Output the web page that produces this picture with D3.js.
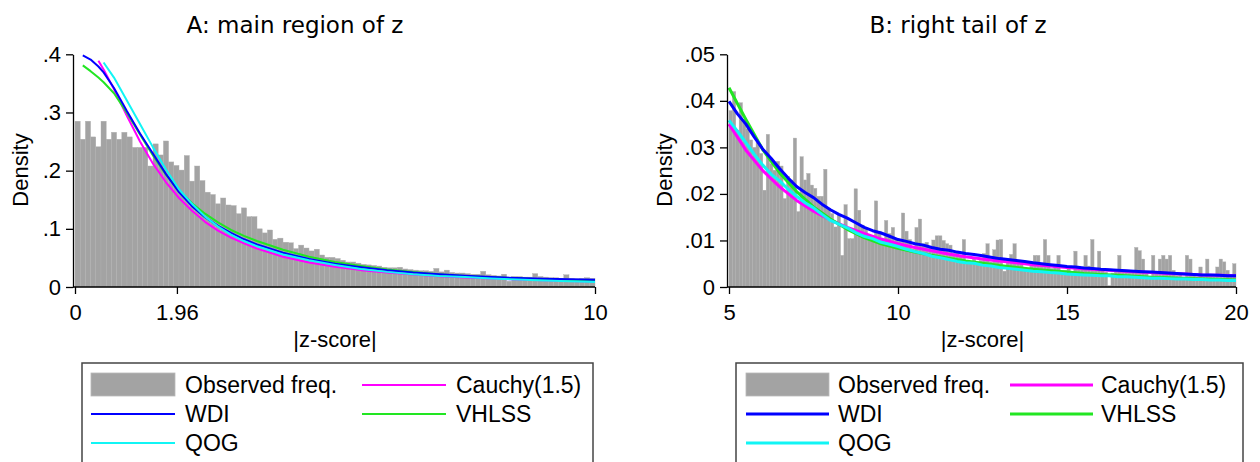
<!DOCTYPE html>
<html>
<head>
<meta charset="utf-8">
<script src="https://cdn.jsdelivr.net/npm/d3@7"></script>
<style>
  body { margin: 0; background: #fff; }
  text { font-family: "Liberation Sans", Arial, sans-serif; fill: #000; }
  .title { font-family: "DejaVu Sans", Tahoma, sans-serif; }
</style>
</head>
<body>
<div id="chart"></div>
<script>
// Two histograms of |z| with fitted densities (A: main region, B: right tail)

const width = 1260;
const height = 462;

// ---- data ----
const titles = ["A: main region of z", "B: right tail of z"];
const legendLabels = ["Observed freq.", "Cauchy(1.5)", "WDI", "VHLSS", "QOG"];

// panel A: bins of 0.1 from 0 to 10
const histA = [
  0.285, 0.254, 0.285, 0.258, 0.241, 0.285, 0.254, 0.266, 0.254, 0.266,
  0.258, 0.240, 0.240, 0.240, 0.208, 0.246, 0.227, 0.251, 0.215, 0.209,
  0.201, 0.226, 0.182, 0.208, 0.183, 0.163, 0.159, 0.143, 0.153, 0.141,
  0.140, 0.126, 0.136, 0.121, 0.121, 0.100, 0.093, 0.098, 0.082, 0.084,
  0.077, 0.076, 0.066, 0.072, 0.067, 0.062, 0.065, 0.055, 0.051, 0.051,
  0.049, 0.046, 0.043, 0.043, 0.041, 0.039, 0.038, 0.037, 0.036, 0.034,
  0.033, 0.033, 0.034, 0.031, 0.030, 0.029, 0.028, 0.028, 0.027, 0.032,
  0.026, 0.029, 0.025, 0.024, 0.024, 0.023, 0.022, 0.022, 0.027, 0.021,
  0.020, 0.019, 0.022, 0.010, 0.018, 0.018, 0.017, 0.017, 0.023, 0.018,
  0.017, 0.016, 0.016, 0.015, 0.021, 0.015, 0.014, 0.015, 0.016, 0.015
];

// panel B: bins of 0.1 from 5 to 20
const histB = [
  0.0379, 0.0420, 0.0337, 0.0396, 0.0360, 0.0340, 0.0316, 0.0300, 0.0310, 0.0287,
  0.0208, 0.0328, 0.0265, 0.0251, 0.0270, 0.0260, 0.0190, 0.0237, 0.0230, 0.0320,
  0.0162, 0.0280, 0.0230, 0.0244, 0.0219, 0.0212, 0.0195, 0.0195, 0.0253, 0.0169,
  0.0158, 0.0129, 0.0155, 0.0068, 0.0177, 0.0104, 0.0104, 0.0211, 0.0165, 0.0133,
  0.0128, 0.0111, 0.0111, 0.0185, 0.0120, 0.0102, 0.0143, 0.0115, 0.0128, 0.0105,
  0.0098, 0.0159, 0.0120, 0.0102, 0.0082, 0.0128, 0.0146, 0.0093, 0.0096, 0.0086,
  0.0101, 0.0110, 0.0110, 0.0100, 0.0093, 0.0090, 0.0073, 0.0073, 0.0065, 0.0102,
  0.0057, 0.0054, 0.0060, 0.0054, 0.0057, 0.0072, 0.0093, 0.0054, 0.0080, 0.0101,
  0.0102, 0.0034, 0.0060, 0.0070, 0.0093, 0.0050, 0.0054, 0.0036, 0.0036, 0.0045,
  0.0068, 0.0068, 0.0048, 0.0102, 0.0068, 0.0040, 0.0043, 0.0068, 0.0036, 0.0036,
  0.0040, 0.0034, 0.0077, 0.0045, 0.0040, 0.0068, 0.0045, 0.0102, 0.0040, 0.0077,
  0.0036, 0.0032, 0.0003, 0.0030, 0.0032, 0.0068, 0.0032, 0.0032, 0.0030, 0.0032,
  0.0085, 0.0078, 0.0060, 0.0029, 0.0022, 0.0068, 0.0032, 0.0060, 0.0068, 0.0060,
  0.0068, 0.0036, 0.0025, 0.0029, 0.0022, 0.0068, 0.0060, 0.0029, 0.0022, 0.0043,
  0.0022, 0.0060, 0.0025, 0.0022, 0.0043, 0.0060, 0.0054, 0.0036, 0.0022, 0.0050
];

// panel A density curves (null = not drawn there)
const gridA = [0.15, 0.3, 0.45, 0.55, 0.75, 1, 1.25, 1.5, 1.75, 2, 2.25, 2.5, 2.75, 3, 3.25, 3.5,
  4, 4.5, 5, 5.5, 6, 6.5, 7, 7.5, 8, 8.5, 9, 9.5, 10];
const cauchyA = [null, null, 0.389, 0.374, 0.340, 0.294, 0.250, 0.212, 0.180, 0.153, 0.131, 0.112, 0.097, 0.085, 0.075, 0.066,
  0.052, 0.042, 0.035, 0.029, 0.025, 0.0215, 0.0186, 0.0163, 0.0144, 0.0128, 0.0115, 0.0103, 0.0093];
const wdiA = [0.398, 0.391, 0.379, 0.369, 0.342, 0.302, 0.264, 0.229, 0.194, 0.163, 0.139, 0.120, 0.105, 0.093, 0.082, 0.073,
  0.059, 0.048, 0.040, 0.034, 0.029, 0.025, 0.022, 0.0195, 0.0172, 0.0155, 0.0143, 0.0133, 0.0123];
const vhlssA = [0.381, 0.371, 0.360, 0.352, 0.333, 0.299, 0.262, 0.226, 0.193, 0.166, 0.144, 0.126, 0.111, 0.098, 0.088, 0.079,
  0.064, 0.052, 0.043, 0.036, 0.030, 0.026, 0.022, 0.019, 0.0168, 0.0150, 0.0135, 0.0122, 0.0110];
const qogA = [null, null, null, 0.386, 0.360, 0.320, 0.280, 0.240, 0.202, 0.168, 0.143, 0.121, 0.104, 0.090, 0.079, 0.070,
  0.056, 0.046, 0.038, 0.031, 0.026, 0.022, 0.019, 0.017, 0.0147, 0.0128, 0.0112, 0.0098, 0.0086];

// panel B smooth curves (step 0.5)
const gridB5 = [5, 5.5, 6, 6.5, 7, 7.5, 8, 8.5, 9, 9.5, 10, 10.5, 11, 11.5, 12, 12.5, 13, 13.5, 14, 14.5,
  15, 15.5, 16, 16.5, 17, 17.5, 18, 18.5, 19, 19.5, 20];
const cauchyB = [0.0350, 0.0294, 0.0250, 0.0215, 0.0186, 0.0163, 0.0144, 0.0128, 0.0115, 0.0103, 0.0093, 0.0085, 0.0078,
  0.0071, 0.0065, 0.0060, 0.0056, 0.0052, 0.0048, 0.0045, 0.0042, 0.0039, 0.0037, 0.0035, 0.0033, 0.0031, 0.0029,
  0.0028, 0.0026, 0.0025, 0.0024];
const vhlssB = [0.0428, 0.0360, 0.0295, 0.0245, 0.0205, 0.0172, 0.0146, 0.0124, 0.0106, 0.0093, 0.0083, 0.0075, 0.0068,
  0.0062, 0.0056, 0.0051, 0.0046, 0.0042, 0.0038, 0.0035, 0.0032, 0.0029, 0.0027, 0.0025, 0.0023, 0.0021, 0.0020,
  0.0018, 0.0017, 0.0016, 0.0015];

// panel B jagged curves (step 0.25)
const gridB25 = [5, 5.25, 5.5, 5.75, 6, 6.25, 6.5, 6.75, 7, 7.25, 7.5, 7.75, 8, 8.25, 8.5, 8.75, 9, 9.25, 9.5, 9.75,
  10, 10.25, 10.5, 10.75, 11, 11.25, 11.5, 11.75, 12, 12.25, 12.5, 12.75, 13, 13.25, 13.5, 13.75, 14, 14.25, 14.5, 14.75,
  15, 15.25, 15.5, 15.75, 16, 16.25, 16.5, 16.75, 17, 17.25, 17.5, 17.75, 18, 18.25, 18.5, 18.75, 19, 19.25, 19.5, 19.75, 20];
const wdiB = [0.0399, 0.0372, 0.0350, 0.0322, 0.0296, 0.0276, 0.0254, 0.0234, 0.0216, 0.0203, 0.0192, 0.0178, 0.0166,
  0.0156, 0.0148, 0.0138, 0.0128, 0.0121, 0.0116, 0.0109, 0.0102, 0.0098, 0.0093, 0.0090, 0.0085, 0.0081, 0.0079,
  0.0075, 0.0072, 0.0070, 0.0067, 0.0064, 0.0061, 0.0059, 0.0057, 0.0055, 0.0052, 0.0050, 0.0048, 0.0046, 0.0044,
  0.0043, 0.0041, 0.0040, 0.0038, 0.0037, 0.0036, 0.0035, 0.0034, 0.0033, 0.0032, 0.0031, 0.0030, 0.0029, 0.0028,
  0.0027, 0.0026, 0.0026, 0.0025, 0.0024, 0.0024];
const qogB = [0.0358, 0.0335, 0.0310, 0.0285, 0.0262, 0.0242, 0.0228, 0.0210, 0.0195, 0.0181, 0.0170, 0.0156, 0.0143,
  0.0135, 0.0127, 0.0117, 0.0109, 0.0104, 0.0096, 0.0092, 0.0087, 0.0081, 0.0076, 0.0072, 0.0066, 0.0063, 0.0059,
  0.0055, 0.0052, 0.0051, 0.0047, 0.0045, 0.0042, 0.0040, 0.0038, 0.0036, 0.0034, 0.0033, 0.0031, 0.0030, 0.0028,
  0.0027, 0.0026, 0.0025, 0.0024, 0.0024, 0.0022, 0.0022, 0.0021, 0.0020, 0.0019, 0.0019, 0.0018, 0.0017, 0.0017,
  0.0016, 0.0016, 0.0015, 0.0015, 0.0014, 0.0014];

const xTicksA = [0, 1.96, 10];
const yTicksA = [0, 0.1, 0.2, 0.3, 0.4];
const xTicksB = [5, 10, 15, 20];
const yTicksB = [0, 0.01, 0.02, 0.03, 0.04, 0.05];

// colours
const colHist = "#a3a3a3";
const colCauchy = "#ff00ff";
const colWdi = "#0000ff";
const colVhlss = "#22e622";
const colQog = "#11f5f5";

const svg = d3.select("#chart")
  .append("svg")
  .attr("width", width)
  .attr("height", height);

svg.append("rect").attr("width", width).attr("height", height).attr("fill", "#fff");

// draws one panel
function drawPanel(p) {
  const x = d3.scaleLinear().domain(p.xDomain).range([p.left, p.right]);
  const y = d3.scaleLinear().domain(p.yDomain).range([p.bottom, p.top]);
  const g = svg.append("g");

  // title
  g.append("text")
    .attr("class", "title")
    .attr("x", p.titleX)
    .attr("y", 33)
    .attr("text-anchor", "middle")
    .attr("font-size", "23px")
    .text(p.title);

  // histogram bars
  g.selectAll(".bar")
    .data(p.hist)
    .enter()
    .append("rect")
    .attr("class", "bar")
    .attr("x", (d, i) => x(p.xDomain[0] + i * p.binW))
    .attr("width", (d, i) => x(p.xDomain[0] + (i + 1) * p.binW) - x(p.xDomain[0] + i * p.binW))
    .attr("y", d => y(d))
    .attr("height", d => y(0) - y(d))
    .attr("fill", colHist)
    .attr("stroke", "#b0b0b0")
    .attr("stroke-width", 0.4);

  // density curves
  p.curves.forEach(c => {
    const pts = c.grid.map((z, i) => [z, c.vals[i]]);
    const line = d3.line()
      .defined(d => d[1] !== null)
      .x(d => x(d[0]))
      .y(d => y(d[1]));
    g.append("path")
      .datum(pts)
      .attr("d", line)
      .attr("fill", "none")
      .attr("stroke", c.color)
      .attr("stroke-width", p.lw)
      .attr("stroke-linejoin", "round");
  });

  // y axis
  const yAxis = g.append("g")
    .attr("transform", `translate(${p.left - 2},0)`)
    .call(d3.axisLeft(y).tickValues(p.yTicks).tickSize(7).tickSizeOuter(0).tickPadding(5)
      .tickFormat(d => d === 0 ? "0" : d3.format(p.yFmt)(d).replace(/^0/, "")));
  yAxis.select(".domain").attr("stroke-width", 1.3);
  yAxis.selectAll("line").attr("stroke-width", 1.3);
  yAxis.selectAll("text").attr("font-size", "22px").attr("font-family", "Liberation Sans, Arial, sans-serif");

  // x axis
  const xAxis = g.append("g")
    .attr("transform", `translate(0,${p.bottom})`)
    .call(d3.axisBottom(x).tickValues(p.xTicks).tickSize(7).tickSizeOuter(0).tickPadding(10)
      .tickFormat(d => String(d)));
  xAxis.select(".domain").attr("d", `M${p.left - 2},0H${p.right}`).attr("stroke-width", 1.3);
  xAxis.selectAll("line").attr("stroke-width", 1.3);
  xAxis.selectAll("text").attr("font-size", "22px").attr("font-family", "Liberation Sans, Arial, sans-serif");

  // axis titles
  g.append("text")
    .attr("x", (p.left + p.right) / 2)
    .attr("y", 347)
    .attr("text-anchor", "middle")
    .attr("font-size", "22px")
    .text("|z-score|");
  g.append("text")
    .attr("transform", `translate(${p.densX},170) rotate(-90)`)
    .attr("text-anchor", "middle")
    .attr("font-size", "22px")
    .text("Density");

  // legend
  const L = p.legend;
  g.append("rect")
    .attr("x", L.x0).attr("y", 363)
    .attr("width", L.x1 - L.x0).attr("height", 140)
    .attr("fill", "#fff")
    .attr("stroke", "#444")
    .attr("stroke-width", 1.5);

  const rows = [393, 422, 451];
  const items = [
    { label: legendLabels[0], col: 0, row: 0, hist: true },
    { label: legendLabels[1], col: 1, row: 0, color: colCauchy },
    { label: legendLabels[2], col: 0, row: 1, color: colWdi },
    { label: legendLabels[3], col: 1, row: 1, color: colVhlss },
    { label: legendLabels[4], col: 0, row: 2, color: colQog }
  ];
  items.forEach(it => {
    const k0 = L.keyX[it.col];
    const by = rows[it.row];
    if (it.hist) {
      g.append("rect")
        .attr("x", k0).attr("y", by - 20)
        .attr("width", L.keyW).attr("height", 23)
        .attr("fill", colHist)
        .attr("stroke", "#b8b8b8")
        .attr("stroke-width", 0.8);
    } else {
      g.append("line")
        .attr("x1", k0).attr("x2", k0 + L.keyW)
        .attr("y1", by - 8).attr("y2", by - 8)
        .attr("stroke", it.color)
        .attr("stroke-width", p.lw);
    }
    g.append("text")
      .attr("x", L.textX[it.col])
      .attr("y", by)
      .attr("font-size", "23px")
      .text(it.label);
  });
}

drawPanel({
  title: titles[0], titleX: 295,
  xDomain: [0, 10], yDomain: [0, 0.4],
  left: 75, right: 595, top: 54.3, bottom: 287,
  binW: 0.1, hist: histA,
  xTicks: xTicksA, yTicks: yTicksA, yFmt: ".1f",
  densX: 28, lw: 2,
  curves: [
    { grid: gridA, vals: cauchyA, color: colCauchy },
    { grid: gridA, vals: vhlssA, color: colVhlss },
    { grid: gridA, vals: wdiA, color: colWdi },
    { grid: gridA, vals: qogA, color: colQog }
  ],
  legend: { x0: 82, x1: 593, keyX: [91, 362], keyW: 84, textX: [185, 456] }
});

drawPanel({
  title: titles[1], titleX: 958,
  xDomain: [5, 20], yDomain: [0, 0.05],
  left: 729, right: 1236, top: 54.3, bottom: 287,
  binW: 0.1, hist: histB,
  xTicks: xTicksB, yTicks: yTicksB, yFmt: ".2f",
  densX: 672, lw: 3,
  curves: [
    { grid: gridB5, vals: cauchyB, color: colCauchy },
    { grid: gridB5, vals: vhlssB, color: colVhlss },
    { grid: gridB25, vals: wdiB, color: colWdi },
    { grid: gridB25, vals: qogB, color: colQog }
  ],
  legend: { x0: 736, x1: 1243, keyX: [746, 1010], keyW: 83, textX: [838, 1101] }
});
</script>
</body>
</html>
